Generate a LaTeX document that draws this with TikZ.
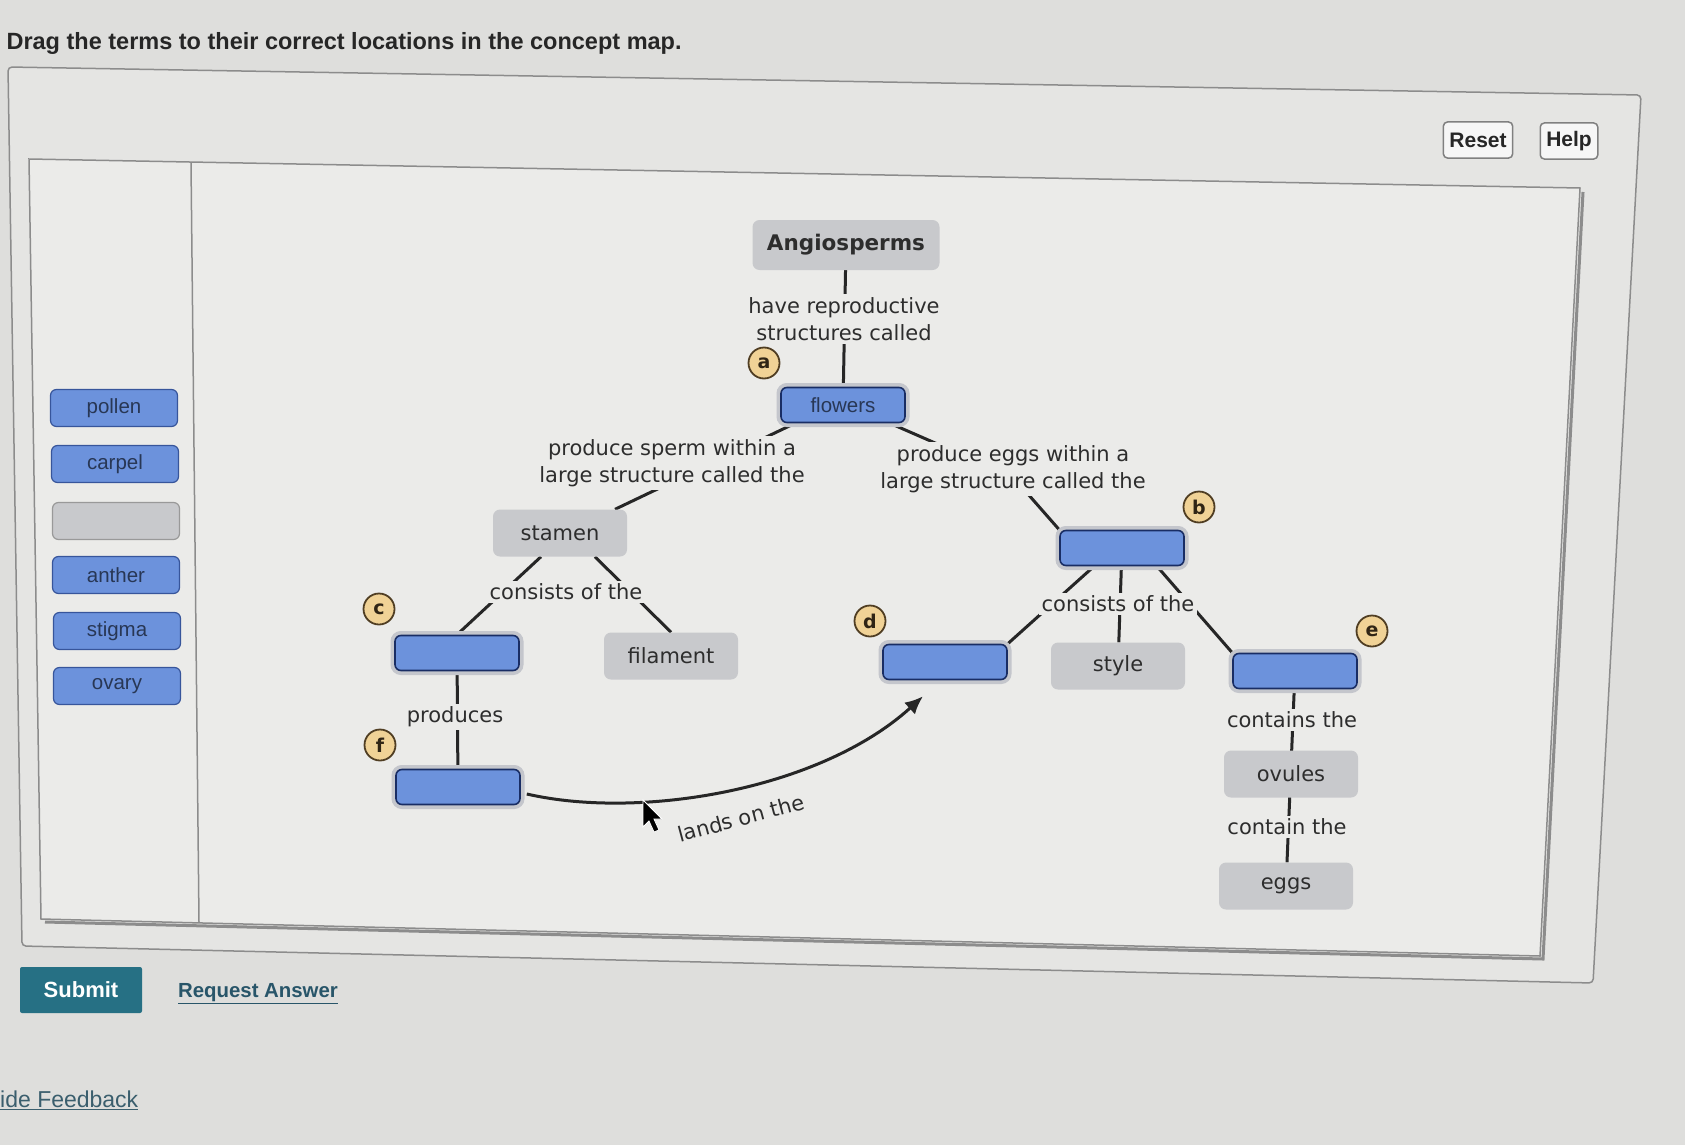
\documentclass[tikz,border=0pt]{standalone}
\usepackage{fontspec}
\setmainfont{Liberation Sans}
\newfontfamily\mapfont{DejaVu Sans}
\usetikzlibrary{arrows.meta}
\pgfdeclarelayer{panel}
\pgfdeclarelayer{lines}
\pgfsetlayers{panel,lines,main}
\definecolor{pagebg}{RGB}{222,222,220}
\definecolor{panelbg}{RGB}{229,229,227}
\definecolor{mapbg}{RGB}{235,235,233}
\definecolor{pline}{RGB}{140,140,140}
\definecolor{cgray}{RGB}{200,201,204}
\definecolor{ctext}{RGB}{45,45,45}
\definecolor{tblue}{RGB}{108,146,220}
\definecolor{bborder}{RGB}{55,85,155}
\definecolor{pborder}{RGB}{25,45,100}
\definecolor{ttext}{RGB}{40,55,85}
\definecolor{halo}{RGB}{196,198,204}
\definecolor{tan}{RGB}{240,210,150}
\definecolor{tanb}{RGB}{80,62,35}
\definecolor{teal}{RGB}{38,112,132}
\definecolor{linkc}{RGB}{40,85,105}
\begin{document}
\begin{tikzpicture}[x=1pt,y=-1pt,
  concept/.style={rounded corners=7pt, fill=cgray, minimum width=134pt, minimum height=47pt,
    font=\mapfont\fontsize{21}{25}\selectfont, text=ctext, inner sep=0pt},
  linklab/.style={fill=mapbg, font=\mapfont\fontsize{21}{27}\selectfont, text=ctext,
    align=center, inner sep=3pt},
  placed/.style={rounded corners=6pt, fill=tblue, draw=pborder, line width=1.6pt,
    minimum width=124pt, minimum height=35pt, font=\fontsize{20.5}{24}\selectfont,
    text=ttext, preaction={draw=halo, line width=9pt}},
  bank/.style={rounded corners=6pt, fill=tblue, draw=bborder, line width=1.2pt,
    minimum width=127pt, minimum height=37pt, font=\fontsize{20.5}{24}\selectfont, text=ttext},
  letter/.style={circle, fill=tan, draw=tanb, line width=1.8pt, minimum size=31pt,
    inner sep=0pt, font=\mapfont\bfseries\fontsize{19}{19}\selectfont, text=tanb!60!black},
  btn/.style={rounded corners=4pt, draw=gray, fill=white!93!gray, line width=1.5pt,
    font=\bfseries\fontsize{21}{24}\selectfont, text=black!85, minimum height=36pt, inner xsep=6pt},
  conn/.style={line width=3pt, draw=black!85}]
\useasboundingbox (0,0) rectangle (1685,1145);

\begin{pgfonlayer}{panel}
\fill[pagebg] (0,0) rectangle (1685,1145);
\path[fill=panelbg, draw=pline, line width=1.5pt, rounded corners=4pt]
  (8,67) -- (1641,95) -- (1593,983) -- (22,946) -- cycle;
\path[fill=mapbg, draw=pline, line width=1.5pt]
  (29,159) -- (1580,188) -- (1540,956) -- (41,919) -- cycle;
\draw[black!45, line width=3pt] (1583,192) -- (1543,959) -- (45,922);
\draw[pline, line width=1.5pt] (191,163) -- (199,922);
\end{pgfonlayer}

% header and footer
\node[anchor=west, font=\bfseries\fontsize{23.5}{26}\selectfont, text=black!85] (title) at (3,43)
  {Drag the terms to their correct locations in the concept map.};
\node[btn] (reset) at (1478,140) {Reset};
\node[btn] (help) at (1569,141) {Help};
\node[fill=teal, rounded corners=2pt, minimum width=122pt, minimum height=46pt, text=white,
  font=\bfseries\fontsize{22}{24}\selectfont] (submit) at (81,990) {Submit};
\node[text=linkc, font=\bfseries\fontsize{20.4}{24}\selectfont] (req) at (258,994) {\underline{Request Answer}};
\node[anchor=west, text=linkc!80!gray, font=\fontsize{23}{26}\selectfont, inner xsep=0pt] (fb) at (0,1100) {\underline{ide Feedback}};

% term bank
\node[bank] (pollen) at (114,408) {pollen};
\node[bank] (carpel) at (115,464) {carpel};
\node[bank, fill=cgray, draw=gray!80] (empty) at (116,521) {};
\node[bank] (anther) at (116,575) {anther};
\node[bank] (stigma) at (117,631) {stigma};
\node[bank] (ovary) at (117,686) {ovary};

% concept map nodes
\node[concept, minimum width=187pt, minimum height=50pt, font=\mapfont\bfseries\fontsize{21.5}{25}\selectfont] (ang) at (846,245) {Angiosperms};
\node[linklab] (lab0) at (844,319) {have reproductive\\structures called};
\node[placed] (flowers) at (843,405) {flowers};
\node[linklab] (lab1) at (672,463) {produce sperm within a\\large structure called the};
\node[linklab] (lab2) at (1013,469) {produce eggs within a\\large structure called the};
\node[concept] (stamen) at (560,533) {stamen};
\node[placed] (b) at (1122,548) {};
\node[linklab] (lab3) at (566,592) {consists of the};
\node[placed] (c) at (457,653) {};
\node[concept] (filament) at (671,656) {filament};
\node[linklab] (lab5) at (455,717) {produces};
\node[placed] (f) at (458,787) {};
\node[linklab] (lab4) at (1118,604) {consists of the};
\node[placed] (d) at (945,662) {};
\node[concept] (style) at (1118,666) {style};
\node[placed] (e) at (1295,671) {};
\node[linklab] (lab6) at (1292,720) {contains the};
\node[concept] (ovules) at (1291,774) {ovules};
\node[linklab] (lab7) at (1287,827) {contain the};
\node[concept] (eggs) at (1286,886) {eggs};
\node[font=\mapfont\fontsize{21}{25}\selectfont, text=ctext, rotate=15] (lands) at (741,818) {lands on the};

% letter markers
\node[letter] (la) at (764,363) {a};
\node[letter] (lb) at (1199,507) {b};
\node[letter] (lc) at (379,609) {c};
\node[letter] (ld) at (870,621) {d};
\node[letter] (le) at (1372,631) {e};
\node[letter] (lf) at (380,745) {f};

% connectors
\begin{pgfonlayer}{lines}
\draw[conn] (ang) -- (flowers);
\draw[conn] ([xshift=-48pt]flowers.south) -- ([xshift=55pt]stamen.north);
\draw[conn] ([xshift=47pt]flowers.south) -- ([yshift=-8pt]lab2.center) -- (b.north west);
\draw[conn] ([xshift=-19pt]stamen.south) -- (c.north);
\draw[conn] ([xshift=35pt]stamen.south) -- (filament.north);
\draw[conn] (c) -- (f);
\draw[conn] ([xshift=-28pt]b.south) -- (d.north east);
\draw[conn] (b) -- (style);
\draw[conn] ([xshift=35pt]b.south) -- (e.north west);
\draw[conn] (e) -- (eggs);
\end{pgfonlayer}
\draw[conn, -{Latex[length=18pt,width=16pt]}] ([xshift=6pt,yshift=-7pt]f.east)
  .. controls (640,820) and (820,790) .. ([xshift=-22pt,yshift=-16pt]d.south);

% mouse cursor
\path[fill=black, draw=white, line width=0.8pt]
  (643,800) -- (643,827) -- (649,821) -- (654,832) -- (659,830) -- (654,819) -- (662,819) -- cycle;
\end{tikzpicture}
\end{document}
